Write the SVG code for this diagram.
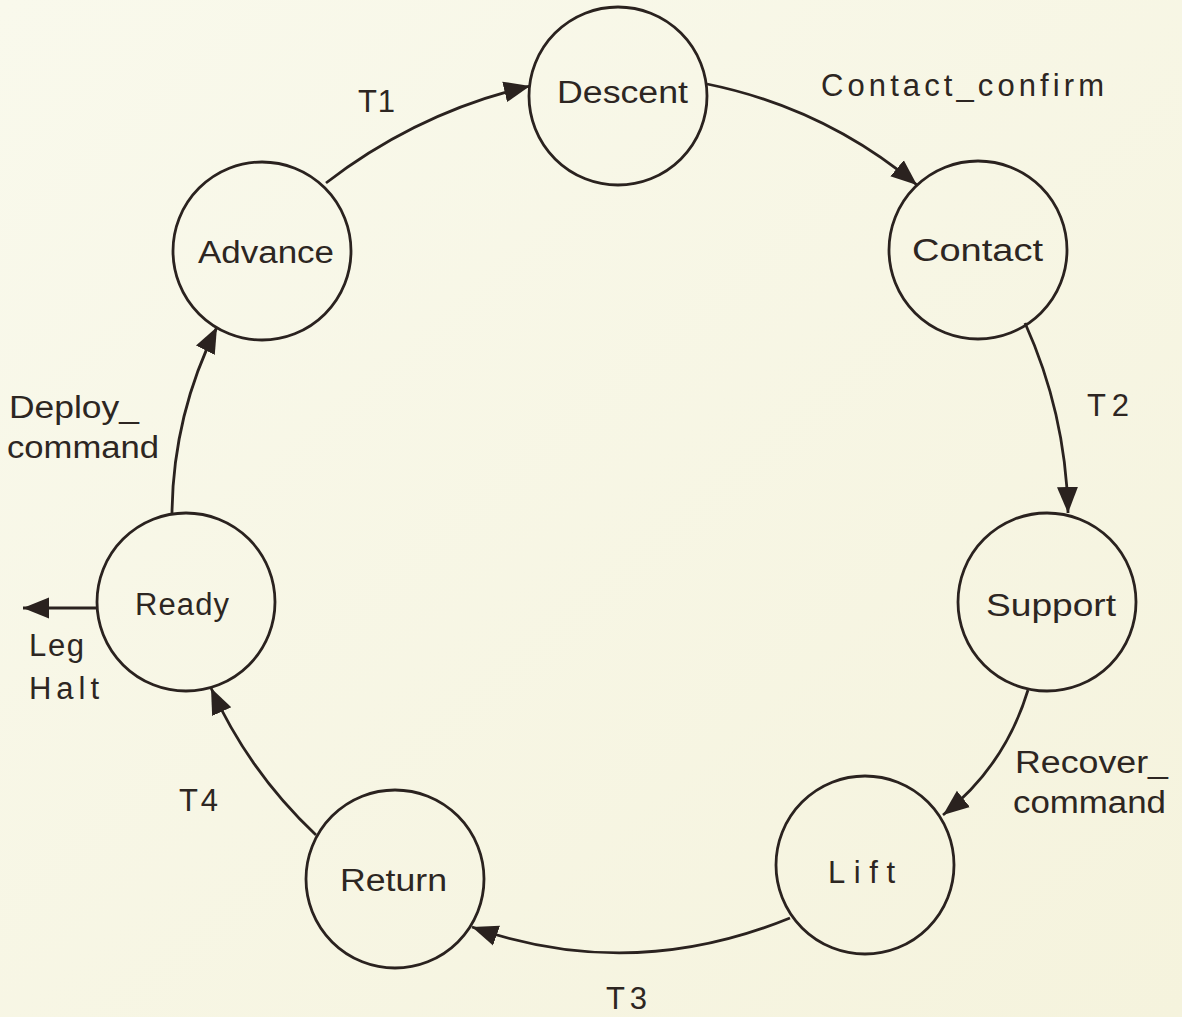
<svg xmlns="http://www.w3.org/2000/svg" width="1182" height="1017" viewBox="0 0 1182 1017">
  <defs>
    <linearGradient id="paper" x1="0" y1="0" x2="1" y2="1">
      <stop offset="0" stop-color="#f9f9ec"/>
      <stop offset="1" stop-color="#f5f3dd"/>
    </linearGradient>
    <marker id="arrow" markerUnits="userSpaceOnUse" markerWidth="28" markerHeight="24" refX="26" refY="11" orient="auto">
      <path d="M0,0.5 L26,11 L0,21.5 Z" fill="#2a221f"/>
    </marker>
  </defs>
  <style>
    .node circle { fill: none; stroke: #2a221f; stroke-width: 2.8; }
    .edge { fill: none; stroke: #2a221f; stroke-width: 2.8; marker-end: url(#arrow); }
    text { font-family: "Liberation Sans", Arial, Helvetica, sans-serif; font-size: 31px; fill: #2d2622; }
  </style>

  <rect x="0" y="0" width="1182" height="1017" fill="url(#paper)"/>

  <!-- transitions between leg states -->
  <g id="connectors">
    <path class="edge" d="M326,183 Q418,112 530,86"/>
    <path class="edge" d="M707,84 Q825,108 917,185"/>
    <path class="edge" d="M1025,323 Q1066,414 1068,513"/>
    <path class="edge" d="M1028,690 Q1005,766 943,815"/>
    <path class="edge" d="M790,918 Q631,983 472,927"/>
    <path class="edge" d="M316,835 Q249,772 211,688"/>
    <path class="edge" d="M172,513 Q173,415 217,327"/>
    <path class="edge" d="M97,608 L23,608"/>
  </g>

  <!-- transition labels -->
  <g id="edge-labels">
    <text x="358" y="112" textLength="37" lengthAdjust="spacing">T1</text>
    <text x="821" y="96" textLength="283" lengthAdjust="spacing">Contact_confirm</text>
    <text x="1087" y="416" textLength="42" lengthAdjust="spacing">T2</text>
    <text x="1015" y="773" textLength="153" lengthAdjust="spacingAndGlyphs">Recover_</text>
    <text x="1013" y="813" textLength="153" lengthAdjust="spacingAndGlyphs">command</text>
    <text x="606" y="1009" textLength="41" lengthAdjust="spacing">T3</text>
    <text x="179" y="811" textLength="39" lengthAdjust="spacing">T4</text>
    <text x="9" y="418" textLength="130" lengthAdjust="spacingAndGlyphs">Deploy_</text>
    <text x="7" y="458" textLength="152" lengthAdjust="spacingAndGlyphs">command</text>
    <text x="29" y="656" textLength="55" lengthAdjust="spacing">Leg</text>
    <text x="29" y="699" textLength="70" lengthAdjust="spacing">Halt</text>
  </g>

  <!-- leg states -->
  <g id="descent" class="node">
    <circle cx="618" cy="96" r="89"/>
    <text x="557" y="103" textLength="131" lengthAdjust="spacingAndGlyphs">Descent</text>
  </g>
  <g id="contact" class="node">
    <circle cx="978" cy="250" r="89"/>
    <text x="912" y="261" textLength="131" lengthAdjust="spacingAndGlyphs">Contact</text>
  </g>
  <g id="support" class="node">
    <circle cx="1047" cy="602" r="89"/>
    <text x="986" y="616" textLength="130" lengthAdjust="spacingAndGlyphs">Support</text>
  </g>
  <g id="lift" class="node">
    <circle cx="865" cy="865" r="89"/>
    <text x="828" y="883" textLength="67" lengthAdjust="spacing">Lift</text>
  </g>
  <g id="return" class="node">
    <circle cx="395" cy="879" r="89"/>
    <text x="340" y="891" textLength="107" lengthAdjust="spacingAndGlyphs">Return</text>
  </g>
  <g id="ready" class="node">
    <circle cx="186" cy="602" r="89"/>
    <text x="135" y="615" textLength="94" lengthAdjust="spacing">Ready</text>
  </g>
  <g id="advance" class="node">
    <circle cx="262" cy="251" r="89"/>
    <text x="198" y="263" textLength="136" lengthAdjust="spacingAndGlyphs">Advance</text>
  </g>
</svg>
